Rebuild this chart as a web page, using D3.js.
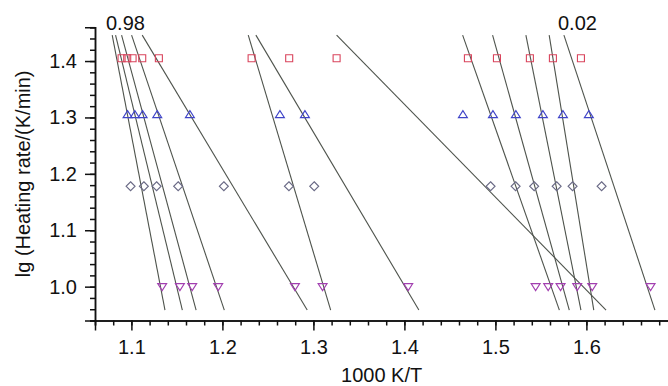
<!DOCTYPE html>
<html><head><meta charset="utf-8">
<script src="https://cdn.jsdelivr.net/npm/d3@7/dist/d3.min.js"></script>
<style>
html,body{margin:0;padding:0;background:#fff;}
svg{display:block;font-family:"Liberation Sans",Arial,sans-serif;}
</style></head><body>
<svg id="chart" width="668" height="386"></svg>
<script>
// lg(heating rate) levels for each marker row
const rowLevels = [1.405, 1.305, 1.178, 1.0];
// 1000 K/T values of the points, one array per heating rate row
const xRate25 = [1.0892,1.0954,1.1013,1.1119,1.1302,1.2321,1.2734,1.3255,1.4698,1.5017,1.5379,1.5632,1.5940];
const xRate20 = [1.0958,1.1038,1.1123,1.1284,1.1643,1.2632,1.2907,1.4643,1.4973,1.5225,1.5522,1.5742,1.6027];
const xRate15 = [1.0991,1.1137,1.1277,1.1514,1.2016,1.2731,1.3009,1.4947,1.5222,1.5426,1.5673,1.5848,1.6167];
const xRate10 = [1.1338,1.1533,1.1668,1.1954,1.2797,1.3101,1.4042,1.5442,1.5580,1.5716,1.5899,1.6064,1.6705];
// fitted iso-conversional lines: x at the top and bottom lg levels
const lineTopY = 1.446, lineBottomY = 0.9585;
const lineTopX = [1.0789,1.0826,1.0892,1.1002,1.1119,1.2284,1.2368,1.3255,1.4640,1.4969,1.5335,1.5591,1.5753];
const lineBottomX = [1.1369,1.1560,1.1711,1.2021,1.2932,1.3190,1.4159,1.6216,1.5703,1.5812,1.5940,1.6081,1.6753];
// tick labels
const xTickLabels = [1.1,1.2,1.3,1.4,1.5,1.6];
const yTickLabels = [1.0,1.1,1.2,1.3,1.4];
const annotations = [{text:"0.98", x:1.0721, y:1.455}, {text:"0.02", x:1.5688, y:1.455}];

const svg = d3.select("#chart");
const x = d3.scaleLinear().domain([1.06, 1.69]).range([95, 668.3]);
const y = d3.scaleLinear().domain([0.94, 1.46]).range([320.5, 27.2]);

const minorX = d3.range(1.06, 1.6901, 0.02).map(v => +v.toFixed(2));
const minorY = d3.range(0.94, 1.4601, 0.02).map(v => +v.toFixed(2));

// fitted lines
const lines = lineTopX.map((t,i) => [[t, lineTopY],[lineBottomX[i], lineBottomY]]);
svg.append("g").selectAll("line").data(lines).join("line")
  .attr("x1", d => x(d[0][0])).attr("y1", d => y(d[0][1]))
  .attr("x2", d => x(d[1][0])).attr("y2", d => y(d[1][1]))
  .attr("stroke", "#4e534c").attr("stroke-width", 1.1);

// markers
const shapes = {
  square: "M-3.5,-3.5H3.5V3.5H-3.5Z",
  up: "M0,-4L4.5,3H-4.5Z",
  diamond: "M0,-4.5L4.5,0L0,4.5L-4.5,0Z",
  down: "M-4.5,-3H4.5L0,4Z"
};
const rows = [
  {xs:xRate25, lv:rowLevels[0], shape:"square", color:"#d9445c"},
  {xs:xRate20, lv:rowLevels[1], shape:"up", color:"#3f44c8"},
  {xs:xRate15, lv:rowLevels[2], shape:"diamond", color:"#6a6a86"},
  {xs:xRate10, lv:rowLevels[3], shape:"down", color:"#a23fb0"}
];
rows.forEach(r => {
  svg.append("g").selectAll("path").data(r.xs).join("path")
    .attr("transform", d => `translate(${x(d)},${y(r.lv)})`)
    .attr("d", shapes[r.shape])
    .attr("fill", "none").attr("stroke", r.color).attr("stroke-width", 1.1);
});

// axes
const xAxisMinor = d3.axisBottom(x).tickValues(minorX).tickSize(5).tickFormat("");
const xAxisMajor = d3.axisBottom(x).tickValues(xTickLabels).tickSize(10).tickPadding(9).tickFormat(d3.format(".1f"));
const gx1 = svg.append("g").attr("transform", `translate(0,${y(0.94)})`).call(xAxisMinor);
const gx2 = svg.append("g").attr("transform", `translate(0,${y(0.94)})`).call(xAxisMajor);
const yAxisMinor = d3.axisLeft(y).tickValues(minorY).tickSize(5).tickFormat("");
const yAxisMajor = d3.axisLeft(y).tickValues(yTickLabels).tickSize(10).tickPadding(8).tickFormat(d3.format(".1f"));
const gy1 = svg.append("g").attr("transform", `translate(${x(1.06)},0)`).call(yAxisMinor);
const gy2 = svg.append("g").attr("transform", `translate(${x(1.06)},0)`).call(yAxisMajor);
[gx1,gx2,gy1,gy2].forEach(g => {
  g.select(".domain").attr("stroke", "#111").attr("stroke-width", 1.5);
  g.selectAll(".tick line").attr("stroke", "#111").attr("stroke-width", 1.5);
  g.selectAll(".tick text").attr("font-size", 20).attr("fill", "#111")
    .attr("font-family", "Liberation Sans, Arial, sans-serif");
});

// axis titles
svg.append("text").attr("x", x(1.375)).attr("y", 382)
  .attr("text-anchor", "middle").attr("font-size", 20).attr("fill", "#111")
  .text("1000 K/T");
svg.append("text").attr("transform", `translate(30,${y(1.2)}) rotate(-90)`)
  .attr("text-anchor", "middle").attr("font-size", 20).attr("fill", "#111")
  .text("lg (Heating rate/(K/min)");

// conversion labels
svg.append("g").selectAll("text").data(annotations).join("text")
  .attr("x", d => x(d.x)).attr("y", d => y(d.y))
  .attr("font-size", 20).attr("fill", "#111").text(d => d.text);
</script></body></html>
